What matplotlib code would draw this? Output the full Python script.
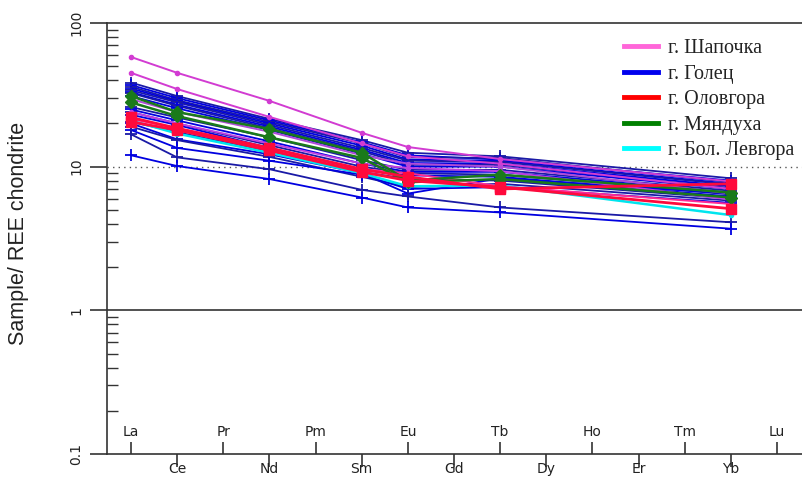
import numpy as np
import matplotlib
matplotlib.use("Agg")
import matplotlib.pyplot as plt
from matplotlib.lines import Line2D
from matplotlib.transforms import blended_transform_factory

plt.close("all")

#%% chondrite-normalised REE data
elements = ["La", "Ce", "Pr", "Nd", "Pm", "Sm", "Eu", "Gd", "Tb", "Dy", "Ho", "Er", "Tm", "Yb", "Lu"]
measured = ["La", "Ce", "Nd", "Sm", "Eu", "Tb", "Yb"]

# г. Голец
golets = [
    [38.5, 31.0, 21.5, 15.3, 12.5, 11.8, 8.3],
    [37.0, 30.0, 21.0, 14.8, 12.0, 11.2, 8.0],
    [36.0, 29.0, 20.5, 14.5, 11.6, 11.5, 7.8],
    [35.0, 28.5, 20.0, 14.0, 11.2, 11.0, 7.6],
    [34.0, 28.0, 19.5, 13.5, 11.0, 10.8, 7.5],
    [33.0, 27.0, 19.0, 13.1, 10.6, 10.5, 7.3],
    [32.5, 26.5, 18.5, 12.8, 10.3, 10.3, 7.1],
    [31.0, 25.5, 18.0, 12.3, 10.0, 10.0, 7.0],
    [26.0, 22.0, 16.0, 11.1, 9.5, 9.5, 6.8],
    [25.0, 21.0, 15.0, 10.5, 9.2, 9.2, 6.6],
    [24.0, 20.0, 14.1, 10.0, 9.0, 8.8, 6.4],
    [23.0, 19.5, 13.5, 9.5, 8.7, 8.5, 6.2],
    [20.5, 17.4, 12.7, 9.2, 8.2, 8.0, 6.0],
    [20.0, 15.5, 12.2, 9.0, 6.5, 8.3, 6.5],
    [19.0, 15.3, 11.7, 8.5, 7.2, 7.6, 5.8],
    [18.0, 13.5, 11.0, 8.8, 7.0, 7.2, 5.6],
    [16.8, 11.6, 9.6, 6.9, 6.2, 5.2, 4.1],
    [12.0, 10.1, 8.2, 6.1, 5.2, 4.8, 3.7],
]
# г. Шапочка
shapochka = [
    [58.0, 45.0, 28.7, 17.2, 13.7, 11.3, 7.9],
    [45.0, 34.7, 22.2, 14.5, 11.8, 10.5, 7.0],
    [29.5, 24.0, 17.5, 12.0, 10.5, 10.0, 6.5],
    [24.0, 20.0, 14.5, 10.5, 9.8, 9.3, 5.9],
    [21.5, 18.5, 13.5, 9.6, 9.0, 7.3, 5.5],
]
# г. Оловгора
olovgora = [
    [22.0, 18.5, 13.5, 9.6, 8.5, 7.0, 7.6],
    [20.5, 18.0, 13.0, 9.2, 8.0, 7.2, 5.1],
]
# г. Мяндуха
myandukha = [
    [31.0, 24.0, 18.3, 12.5, 8.0, 8.8, 6.6],
    [28.0, 22.5, 16.0, 11.5, 7.8, 8.2, 6.1],
]
# г. Бол. Левгора
levgora = [
    [21.0, 17.0, 12.5, 9.0, 7.3, 7.4, 4.6],
]

legend_labels = ["г. Шапочка", "г. Голец", "г. Оловгора", "г. Мяндуха", "г. Бол. Левгора"]
legend_colors = ["#ff66d9", "#0000ee", "#ff0000", "#008000", "#00ffff"]

#%%
x = [elements.index(e) for e in measured]

fig = plt.figure(figsize=(8.02, 4.79), dpi=100)
ax = fig.add_axes([107 / 802, 1 - 454 / 479, 1 - 107 / 802, (454 - 23) / 479])

blues = ["#1a1aa6", "#0000e0"]
for i, row in enumerate(golets):
    ax.plot(x, row, color=blues[i % 2], lw=1.3, marker="+", ms=9, mew=1.3, zorder=2)

for row in levgora:
    ax.plot(x, row, color="#00e5ee", lw=1.8, marker="o", ms=3, zorder=3)

pinks = ["#d23cd2", "#d23cd2", "#b04ad8", "#c040e0", "#ff2a95"]
for row, c in zip(shapochka, pinks):
    ax.plot(x, row, color=c, lw=1.4, marker="o", ms=3, zorder=3)

for row in myandukha:
    ax.plot(x, row, color="#1a7a1a", lw=1.8, marker="D", ms=6, zorder=4)

for row in olovgora:
    ax.plot(x, row, color="#ff0a3c", lw=2.0, marker="s", ms=7, zorder=5)

# reference lines
ax.axhline(1, color="#333333", lw=1.2, zorder=1)
ax.axhline(10, color="#555555", lw=1.0, ls=(0, (1, 3)), zorder=1)

ax.set_yscale("log")
ax.set_ylim(0.1, 100)
ax.set_xlim(-0.52, 14.54)

ax.spines["right"].set_visible(False)
for side in ["left", "top", "bottom"]:
    ax.spines[side].set_color("#333333")
    ax.spines[side].set_linewidth(1.2)

# y axis: long outward major ticks, short inward minor ticks
ax.set_yticks([0.1, 1, 10, 100])
ax.set_yticklabels(["0.1", "1", "10", "100"], rotation=90, va="center")
ax.tick_params(axis="y", which="major", direction="out", length=12, width=1.2,
               color="#333333", labelsize=10, pad=5, labelcolor="#222222")
ax.tick_params(axis="y", which="minor", direction="in", length=8, width=1.0,
               color="#333333", labelleft=False)

# x axis: odd elements get outward ticks, even ones inward ticks, labels on two rows
ax.set_xticks(range(1, len(elements), 2))
ax.set_xticks(range(0, len(elements), 2), minor=True)
ax.tick_params(axis="x", which="major", direction="out", length=9, width=1.2,
               color="#333333", labelbottom=False)
ax.tick_params(axis="x", which="minor", direction="in", length=9, width=1.2,
               color="#333333", labelbottom=False)
trans = blended_transform_factory(ax.transData, fig.transFigure)
for i, name in enumerate(elements):
    ypix = 432 if i % 2 == 0 else 469
    ax.text(i, 1 - ypix / 479, name, transform=trans, ha="center", va="center",
            fontsize=10, color="#222222", clip_on=False)

fig.text(19 / 802, 1 - 233 / 479, "Sample/ REE chondrite", rotation=90,
         ha="center", va="center", fontsize=15.5, family="Liberation Sans", color="#222222")

handles = [Line2D([0], [0], color=c, lw=3.5) for c in legend_colors]
leg = ax.legend(handles, legend_labels, loc="upper right", bbox_to_anchor=(1.012, 1.0),
                frameon=False, prop={"family": "Liberation Serif", "size": 14.5},
                handlelength=1.7, handletextpad=0.5, labelspacing=0.32, borderpad=0.3)
for t in leg.get_texts():
    t.set_color("#222222")

fig.savefig("out.png", dpi=100)
